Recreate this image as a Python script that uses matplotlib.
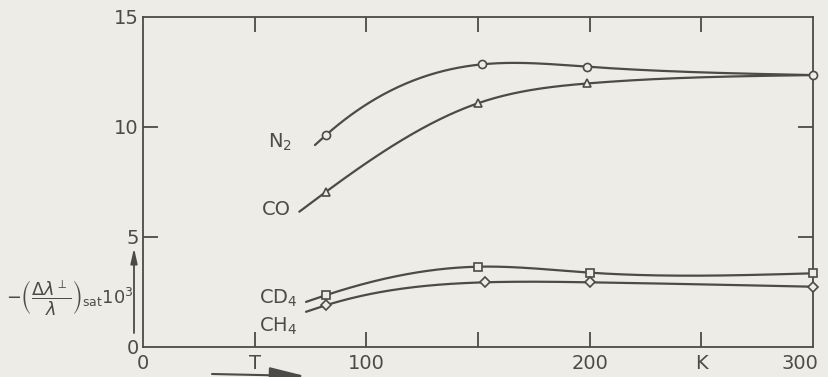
import numpy as np
import matplotlib
matplotlib.use("Agg")
import matplotlib.pyplot as plt
from matplotlib.transforms import ScaledTranslation

# ---- data (T in K, value = -(dλ/λ)sat * 10^3) ----
# first entry of each curve list is where the hand-drawn curve begins (no marker)
n2_T = [77, 82, 152, 199, 300]
n2_v = [9.18, 9.64, 12.85, 12.74, 12.36]
co_T = [70, 82, 150, 199, 300]
co_v = [6.15, 7.06, 11.08, 11.98, 12.36]
cd4_T = [73, 82, 150, 200, 300]
cd4_v = [2.05, 2.36, 3.65, 3.38, 3.35]
ch4_T = [73, 82, 153, 200, 300]
ch4_v = [1.60, 1.90, 2.94, 2.94, 2.74]

series_names = ["N$_2$", "CO", "CD$_4$", "CH$_4$"]
x_ticks = [0, 50, 100, 150, 200, 250, 300]
x_ticklabels = ["0", "T", "100", "", "200", "K", "300"]
y_ticks = [0, 5, 10, 15]
y_ticklabels = ["0", "5", "10", "15"]

INK = "#4d4b48"
BG = "#eeece7"


def natural_spline(x, y, xs):
    x = np.asarray(x, float)
    y = np.asarray(y, float)
    n = len(x)
    h = np.diff(x)
    A = np.zeros((n, n))
    b = np.zeros(n)
    A[0, 0] = A[-1, -1] = 1.0
    for i in range(1, n - 1):
        A[i, i - 1] = h[i - 1]
        A[i, i] = 2 * (h[i - 1] + h[i])
        A[i, i + 1] = h[i]
        b[i] = 6 * ((y[i + 1] - y[i]) / h[i] - (y[i] - y[i - 1]) / h[i - 1])
    M = np.linalg.solve(A, b)
    out = np.empty_like(xs)
    for k, xv in enumerate(xs):
        i = min(max(np.searchsorted(x, xv) - 1, 0), n - 2)
        hi = h[i]
        a = x[i + 1] - xv
        c = xv - x[i]
        out[k] = (M[i] * a ** 3 / (6 * hi) + M[i + 1] * c ** 3 / (6 * hi)
                  + (y[i] / hi - M[i] * hi / 6) * a
                  + (y[i + 1] / hi - M[i + 1] * hi / 6) * c)
    return out


plt.rcParams["font.family"] = ["DejaVu Sans"]
plt.rcParams["mathtext.fontset"] = "dejavusans"

fig = plt.figure(figsize=(8.29, 3.77), dpi=100, facecolor=BG)
ax = fig.add_axes([143 / 829, 1 - 347 / 377, 670 / 829, 330 / 377])
ax.set_facecolor(BG)
ax.set_xlim(0, 300)
ax.set_ylim(0, 15)

# (T, values, marker, how many trailing points share another series' marker)
curves = [(co_T, co_v, "^", 1), (n2_T, n2_v, "o", 0),
          (cd4_T, cd4_v, "s", 0), (ch4_T, ch4_v, "D", 0)]
for T, v, mk, skip in curves:
    xs = np.linspace(T[0], T[-1], 400)
    ax.plot(xs, natural_spline(T, v, xs), color=INK, lw=1.6, zorder=2,
            clip_on=False, solid_capstyle="round")
    end = len(T) - skip
    ax.plot(T[1:end], v[1:end], linestyle="none", marker=mk,
            ms={"o": 5.8, "^": 6, "s": 5.5, "D": 5}[mk],
            mfc=BG, mec=INK, mew=1.2, zorder=3, clip_on=False)

for s in ax.spines.values():
    s.set_color(INK)
    s.set_linewidth(1.3)

ax.set_xticks(x_ticks)
ax.set_xticklabels(x_ticklabels)
ax.set_yticks(y_ticks)
ax.set_yticklabels(y_ticklabels)
ax.tick_params(axis="both", direction="in", length=11, width=1.3, color=INK,
               labelcolor=INK, labelsize=14, top=True, right=True)
ax.tick_params(axis="x", pad=5)
ax.tick_params(axis="y", pad=3)
# hide corner ticks
for tl in [ax.xaxis.get_major_ticks()[0], ax.xaxis.get_major_ticks()[-1],
           ax.yaxis.get_major_ticks()[0], ax.yaxis.get_major_ticks()[-1]]:
    tl.tick1line.set_visible(False)
    tl.tick2line.set_visible(False)
lbl300 = ax.get_xticklabels()[-1]
lbl300.set_transform(lbl300.get_transform() + ScaledTranslation(-0.13, 0, fig.dpi_scale_trans))

# series labels
txt = dict(color=INK, fontsize=14, ha="center", va="center")
fig.text(280 / 829, 1 - 142 / 377, series_names[0], **txt)
fig.text(276 / 829, 1 - 209 / 377, series_names[1], **txt)
fig.text(278 / 829, 1 - 298 / 377, series_names[2], **txt)
fig.text(278 / 829, 1 - 326 / 377, series_names[3], **txt)

# axis label
fig.text(70 / 829, 1 - 298 / 377,
         r"$-\left(\dfrac{\Delta\lambda^{\perp}}{\lambda}\right)_{\mathrm{sat}}10^3$",
         color=INK, fontsize=12.8, ha="center", va="center")

# arrows
ax.annotate("", xy=(134 / 829, 1 - 248 / 377), xytext=(134 / 829, 1 - 333 / 377),
            xycoords="figure fraction", textcoords="figure fraction",
            arrowprops=dict(arrowstyle="-|>,head_length=0.9,head_width=0.2",
                            color=INK, lw=1.3, shrinkA=0, shrinkB=0))
ax.annotate("", xy=(305 / 829, 1 - 376 / 377), xytext=(212 / 829, 1 - 374 / 377),
            xycoords="figure fraction", textcoords="figure fraction",
            arrowprops=dict(arrowstyle="-|>,head_length=2.2,head_width=0.5",
                            color=INK, lw=1.5, shrinkA=0, shrinkB=0))

fig.savefig("out.png", dpi=100, facecolor=BG)
